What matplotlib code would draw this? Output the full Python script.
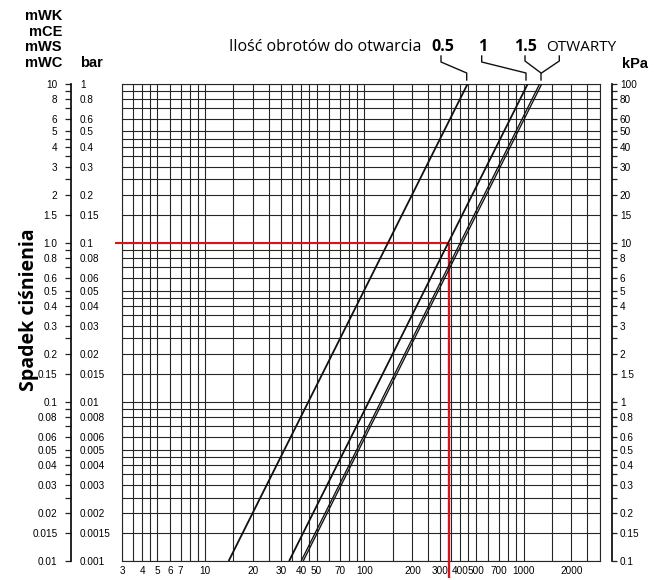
"""
Wykres spadku ciśnienia zaworu - odtworzenie w matplotlib
"""

import matplotlib
matplotlib.use('Agg')
import matplotlib.pyplot as plt
from matplotlib.lines import Line2D
from matplotlib.ticker import FixedLocator, NullFormatter
from matplotlib.transforms import blended_transform_factory

# Flow axis (bottom): grid lines and labelled values
x_grid = [3, 3.5, 4, 4.5, 5, 6, 7, 8, 9,
          10, 15, 20, 25, 30, 35, 40, 45, 50, 60, 70, 80, 90,
          100, 150, 200, 250, 300, 350, 400, 450, 500, 600, 700, 800, 900,
          1000, 1500, 2000, 2500, 3000]
x_labeled = [3, 4, 5, 6, 7, 10, 20, 30, 40, 50, 70, 100,
             200, 300, 400, 500, 700, 1000, 2000]

# Pressure axis (mWC): grid lines and labelled values
y_grid = [0.01, 0.015, 0.02, 0.025, 0.03, 0.035, 0.04, 0.045, 0.05, 0.06, 0.07, 0.08, 0.09,
          0.1, 0.15, 0.2, 0.25, 0.3, 0.35, 0.4, 0.45, 0.5, 0.6, 0.7, 0.8, 0.9,
          1, 1.5, 2, 2.5, 3, 3.5, 4, 4.5, 5, 6, 7, 8, 9, 10]
y_labeled = [10, 8, 6, 5, 4, 3, 2, 1.5, 1, 0.8, 0.6, 0.5, 0.4, 0.3, 0.2, 0.15,
             0.1, 0.08, 0.06, 0.05, 0.04, 0.03, 0.02, 0.015, 0.01]
mwc_labels = ['10', '8', '6', '5', '4', '3', '2', '1.5', '1.0', '0.8', '0.6', '0.5',
              '0.4', '0.3', '0.2', '0.15', '0.1', '0.08', '0.06', '0.05', '0.04',
              '0.03', '0.02', '0.015', '0.01']
bar_labels = ['1', '0.8', '0.6', '0.5', '0.4', '0.3', '0.2', '0.15', '0.1', '0.08',
              '0.06', '0.05', '0.04', '0.03', '0.02', '0.015', '0.01', '0.008',
              '0.006', '0.005', '0.004', '0.003', '0.002', '0.0015', '0.001']
kpa_labels = ['100', '80', '60', '50', '40', '30', '20', '15', '10', '8', '6', '5',
              '4', '3', '2', '1.5', '1', '0.8', '0.6', '0.5', '0.4', '0.3', '0.2',
              '0.15', '0.1']

# Characteristic lines (number of turns): flow at the bottom and top of the chart
turns = ['0.5', '1', '1.5', 'OTWARTY']
dp_ends = [0.01, 10]
q_bottom = [14.0, 33.6, 40.0, 41.2]
q_top = [446, 1065, 1265, 1305]

# Red example reading
red_q = 338
red_dp = 1.0

W, H = 662, 580
NARROW = ['Liberation Sans', 'DejaVu Sans']
TEXT = ['Open Sans', 'DejaVu Sans']
TICK_SIZE = 7.2


def px_rect(x0, y0, w, h):
    """Pixel box (from top-left) -> figure fraction rect"""
    return [x0 / W, 1 - (y0 + h) / H, w / W, h / H]


def px_pt(x, y):
    return x / W, 1 - y / H


fig = plt.figure(figsize=(W / 100, H / 100), dpi=100)

# Main grid
ax = fig.add_axes(px_rect(122.2, 83.5, 477.3, 477.5))
ax.set_xscale('log')
ax.set_yscale('log')
ax.set_xlim(3, 3000)
ax.set_ylim(0.01, 10)
ax.xaxis.set_major_locator(FixedLocator(x_grid))
ax.xaxis.set_minor_locator(FixedLocator([]))
ax.set_xticklabels([str(v) if v in x_labeled else '' for v in x_grid],
                   family=NARROW, fontsize=TICK_SIZE)
ax.yaxis.set_major_locator(FixedLocator(y_grid))
ax.yaxis.set_minor_locator(FixedLocator([]))
ax.yaxis.set_major_formatter(NullFormatter())
ax.tick_params(axis='both', length=0, pad=3.5)
ax.grid(True, color='#262626', linewidth=0.8)
for s in ax.spines.values():
    s.set_color('#262626')
    s.set_linewidth(0.8)

for i, name in enumerate(turns):
    lw = 1.3 if name in ('0.5', '1') else 0.95
    ax.plot([q_bottom[i], q_top[i]], dp_ends, color='#111111', linewidth=lw,
            zorder=5, solid_capstyle='butt')

# Red reading lines
red = '#d6141c'
ax.plot([red_q, red_q], [red_dp, 0.01], color=red, linewidth=1.7, zorder=4,
        solid_capstyle='butt')
ax.plot([3, red_q], [red_dp, red_dp], color=red, linewidth=1.5, zorder=4,
        solid_capstyle='butt')
bx = blended_transform_factory(ax.transData, ax.transAxes)
by = blended_transform_factory(ax.transAxes, ax.transData)
ax.plot([red_q, red_q], [0, -0.036], color=red, linewidth=1.7, transform=bx,
        clip_on=False, zorder=4, solid_capstyle='butt')
ax.plot([-0.015, 0], [red_dp, red_dp], color=red, linewidth=1.5, transform=by,
        clip_on=False, zorder=4, solid_capstyle='butt')

y_minor = [v for v in y_grid if v not in y_labeled]


def scale_axis(rect, labels, side, length, pad):
    a = fig.add_axes(rect)
    a.set_yscale('log')
    a.set_ylim(0.01, 10)
    a.patch.set_visible(False)
    a.xaxis.set_visible(False)
    for s in a.spines.values():
        s.set_visible(False)
    a.yaxis.set_major_locator(FixedLocator(y_labeled))
    a.yaxis.set_minor_locator(FixedLocator(y_minor))
    a.yaxis.set_minor_formatter(NullFormatter())
    a.set_yticklabels(labels, family=NARROW, fontsize=TICK_SIZE)
    if side == 'right':
        a.yaxis.tick_right()
    a.tick_params(axis='y', which='both', direction='out', length=length,
                  width=0.9, pad=pad, color='#222222')
    return a


# mWC scale (left of spine) and bar labels (right of spine)
axl = scale_axis(px_rect(71, 83.5, 0.2, 477.5), mwc_labels, 'left', 4.3, 5.5)
axl.spines['left'].set_visible(True)
axl.spines['left'].set_linewidth(1.2)
axb = scale_axis(px_rect(71, 83.5, 0.2, 477.5), bar_labels, 'right', 0, 6.3)

# kPa scale
axr = scale_axis(px_rect(612, 83.5, 0.2, 477.5), kpa_labels, 'right', 3.5, 2.0)
axr.spines['right'].set_visible(True)
axr.spines['right'].set_linewidth(1.2)

# Unit headers
for txt, yy in zip(['mWK', 'mCE', 'mWS', 'mWC'], [16, 31.5, 47, 63]):
    fig.text(*px_pt(62, yy), txt, ha='right', va='center', family=NARROW,
             weight='bold', fontsize=10.5)
fig.text(*px_pt(80, 63), 'bar', ha='left', va='center', family=NARROW,
         weight='bold', fontsize=10.5)
fig.text(*px_pt(622, 64), 'kPa', ha='left', va='center', family=NARROW,
         weight='bold', fontsize=10.5)

fig.text(*px_pt(29, 310), 'Spadek ciśnienia', rotation=90, ha='center', va='center',
         family=TEXT, weight='bold', fontsize=14)

# Header with number of turns
fig.text(*px_pt(229, 51), 'Ilość obrotów do otwarcia', ha='left', va='baseline',
         family=TEXT, fontsize=11.5)
fig.text(*px_pt(431, 51), '0.5', ha='left', va='baseline', family=TEXT,
         weight='bold', fontsize=11.5)
fig.text(*px_pt(478, 51), '1', ha='left', va='baseline', family=TEXT,
         weight='bold', fontsize=11.5)
fig.text(*px_pt(514, 51), '1.5', ha='left', va='baseline', family=TEXT,
         weight='bold', fontsize=11.5)
fig.text(*px_pt(546, 51), 'OTWARTY', ha='left', va='baseline', family=TEXT,
         fontsize=11)

# Leader lines from labels to line ends
leaders = [
    [(441, 56), (441, 62), (466.7, 73), (466.7, 80)],
    [(481.7, 56), (481.7, 62), (526, 73), (526, 80)],
    [(525, 56), (525, 61), (541, 73), (541, 80)],
    [(559.3, 56), (559.3, 61), (541.5, 73)],
]
for pts in leaders:
    xs = [px_pt(x, y)[0] for x, y in pts]
    ys = [px_pt(x, y)[1] for x, y in pts]
    fig.add_artist(Line2D(xs, ys, transform=fig.transFigure, color='#111111',
                          linewidth=1.0))

plt.savefig('out.png', dpi=100)
